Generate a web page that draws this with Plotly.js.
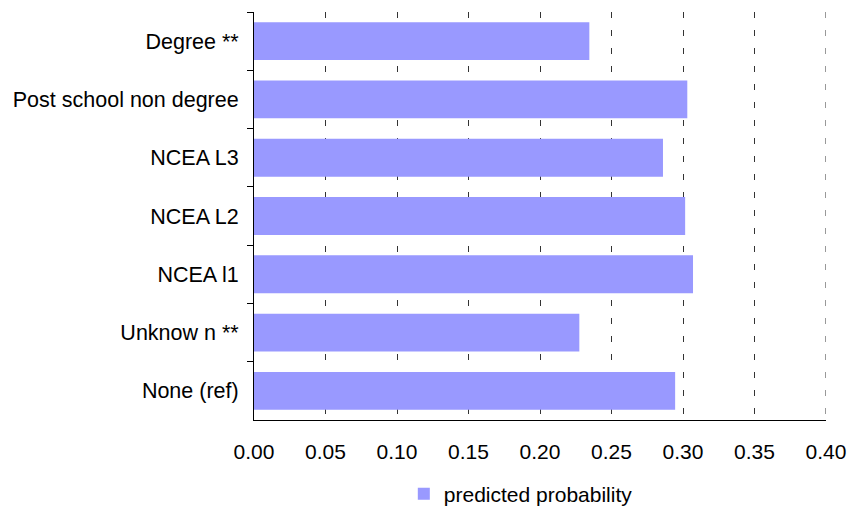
<!DOCTYPE html>
<html>
<head>
<meta charset="utf-8">
<script src="https://cdn.plot.ly/plotly-3.0.1.min.js"></script>
<style>html,body{margin:0;padding:0;background:#fff;}#chart{width:851px;height:509px;}</style>
</head>
<body>
<div id="chart"></div>
<script>
const categories = ["Degree **", "Post school non degree", "NCEA L3", "NCEA L2", "NCEA l1", "Unknow n **", "None (ref)"];
const predictedProbability = [0.2345, 0.303, 0.286, 0.3015, 0.307, 0.2275, 0.2945];
const xTickValues = [0, 0.05, 0.10, 0.15, 0.20, 0.25, 0.30, 0.35, 0.40];
const xTickLabels = ["0.00", "0.05", "0.10", "0.15", "0.20", "0.25", "0.30", "0.35", "0.40"];

const font = {family: "Liberation Sans, Arial, sans-serif", size: 21, color: "#000"};
const yFont = {family: "Liberation Sans, Arial, sans-serif", size: 21.5, color: "#000"};
const xMax = xTickValues[xTickValues.length - 1];

Plotly.newPlot("chart", [{
  type: "bar",
  orientation: "h",
  y: categories,
  x: predictedProbability,
  name: "predicted probability",
  marker: {color: "#9999ff", line: {width: 0}},
  hoverinfo: "x+y"
}], {
  width: 851,
  height: 509,
  margin: {l: 254, r: 25, t: 12, b: 89},
  paper_bgcolor: "#fff",
  plot_bgcolor: "#fff",
  font: font,
  bargap: 0.35,
  showlegend: true,
  legend: {
    orientation: "h",
    xref: "container", yref: "container",
    x: 0.612, y: 1 - 494/509,
    xanchor: "center", yanchor: "middle",
    font: font,
    bgcolor: "rgba(0,0,0,0)"
  },
  shapes: [{
    type: "line", xref: "x", yref: "paper",
    x0: xMax, x1: xMax, y0: 1, y1: 0,
    line: {color: "#333", width: 1, dash: "6px,12px"},
    layer: "below"
  }],
  xaxis: {
    range: [0, xMax],
    tickvals: xTickValues,
    ticktext: xTickLabels,
    showgrid: true,
    gridcolor: "#333",
    gridwidth: 1,
    griddash: "6px,12px",
    zeroline: false,
    showline: true,
    linecolor: "#000",
    linewidth: 1,
    ticks: "",
    ticklabelstandoff: 13,
    tickfont: font,
    fixedrange: true
  },
  yaxis: {
    type: "category",
    autorange: "reversed",
    showgrid: false,
    zeroline: false,
    showline: true,
    linecolor: "#000",
    linewidth: 1,
    ticks: "outside",
    tickson: "boundaries",
    ticklen: 6,
    tickcolor: "#000",
    tickwidth: 1,
    ticklabelstandoff: 10,
    tickfont: yFont,
    fixedrange: true
  }
}, {displayModeBar: false, staticPlot: true});
</script>
</body>
</html>
